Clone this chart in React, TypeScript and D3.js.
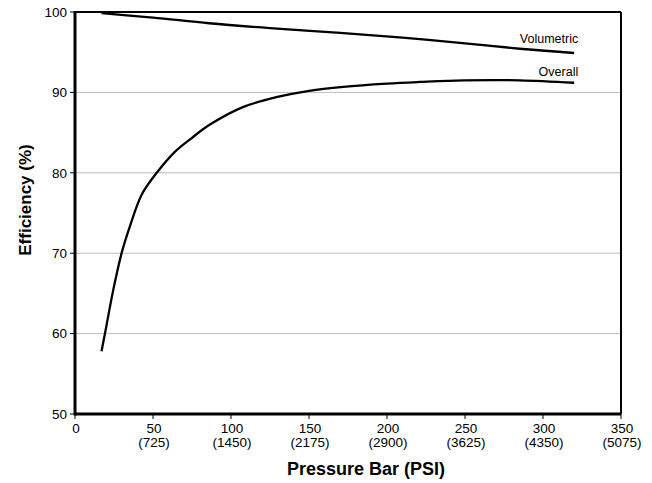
import React from "react";
import * as d3 from "d3";

const xTicks = [0, 50, 100, 150, 200, 250, 300, 350];
const xTickPsi = ["", "(725)", "(1450)", "(2175)", "(2900)", "(3625)", "(4350)", "(5075)"];
const yTicks = [50, 60, 70, 80, 90, 100];

const overallBar = [17, 19.2, 24.6, 30, 35.3, 42.8, 52.4, 64, 74, 86.5, 108, 129, 150, 172, 200, 221, 249, 285, 320];
const overallEff = [57.8, 60, 65.5, 70.1, 73.4, 77.3, 80.0, 82.6, 84.2, 86.0, 88.2, 89.4, 90.2, 90.7, 91.1, 91.3, 91.5, 91.5, 91.2];

const volBar = [17, 50, 86, 125, 170, 210, 245, 287, 320];
const volEff = [99.85, 99.3, 98.6, 98.0, 97.4, 96.8, 96.2, 95.4, 94.9];

const W = 652, H = 483;
const left = 75, right = 621, top = 12, bottom = 414;
const font = "'Liberation Sans', Arial, Helvetica, sans-serif";

export default function App() {
  const x = d3.scaleLinear().domain([0, 350]).range([left, right]);
  const y = d3.scaleLinear().domain([50, 100]).range([bottom, top]);
  const line = d3.line<[number, number]>().x(d => x(d[0])).y(d => y(d[1])).curve(d3.curveCatmullRom.alpha(0.5));
  const overall = overallBar.map((b, i) => [b, overallEff[i]] as [number, number]);
  const vol = volBar.map((b, i) => [b, volEff[i]] as [number, number]);
  const lastO = overall[overall.length - 1];
  const lastV = vol[vol.length - 1];
  return (
    <svg width={W} height={H} style={{ position: "absolute", left: 0, top: 0, background: "#fff" }} fontFamily={font}>
      {yTicks.filter(t => t > 50 && t < 100).map(t => (
        <line key={t} x1={left} x2={right} y1={y(t)} y2={y(t)} stroke="#bbb" strokeWidth={1} />
      ))}
      <line x1={left} x2={right} y1={top} y2={top} stroke="#000" strokeWidth={2} />
      <line x1={right} x2={right} y1={top} y2={bottom} stroke="#000" strokeWidth={2} />
      <line x1={left} x2={right} y1={bottom} y2={bottom} stroke="#000" strokeWidth={3} />
      <line x1={left} x2={left} y1={top - 1} y2={bottom + 1.5} stroke="#000" strokeWidth={3} />
      {yTicks.map(t => (
        <g key={t}>
          <line x1={left - 5} x2={left} y1={y(t)} y2={y(t)} stroke="#000" strokeWidth={1} />
          <text x={left - 8} y={y(t)} dy="0.35em" textAnchor="end" fontSize={13.5}>{t}</text>
        </g>
      ))}
      {xTicks.map((t, i) => (
        <g key={t}>
          <line x1={x(t)} x2={x(t)} y1={bottom} y2={bottom + 5} stroke="#000" strokeWidth={1} />
          <text x={x(t) + 1} y={433} textAnchor="middle" fontSize={13.5}>{t}</text>
          {xTickPsi[i] && <text x={x(t) + 1} y={447} textAnchor="middle" fontSize={13.5}>{xTickPsi[i]}</text>}
        </g>
      ))}
      <path d={line(vol) || ""} fill="none" stroke="#000" strokeWidth={2.3} />
      <path d={line(overall) || ""} fill="none" stroke="#000" strokeWidth={2.3} />
      <text x={x(lastV[0]) + 4} y={y(lastV[1]) - 10} textAnchor="end" fontSize={12.5}>Volumetric</text>
      <text x={x(lastO[0]) + 4} y={y(lastO[1]) - 7} textAnchor="end" fontSize={12.5}>Overall</text>
      <text x={366} y={475} textAnchor="middle" fontSize={18} fontWeight="bold">Pressure Bar (PSI)</text>
      <text transform={`translate(31,200) rotate(-90)`} textAnchor="middle" fontSize={17} fontWeight="bold">Efficiency (%)</text>
    </svg>
  );
}
